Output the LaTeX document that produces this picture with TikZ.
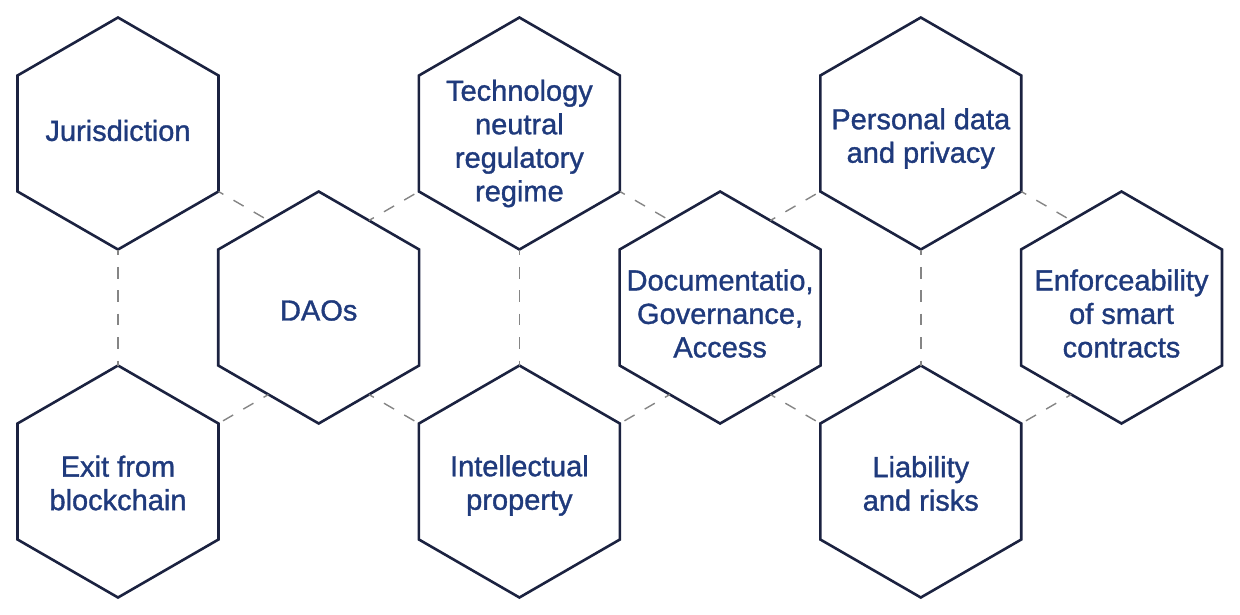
\documentclass[tikz,border=0pt]{standalone}
\usepackage{fontspec}
\setmainfont{Liberation Sans}
\newfontfamily\labelfont{Liberation Sans}[FakeBold=1.2]
\usetikzlibrary{calc}
\definecolor{hexstroke}{HTML}{1B2240}
\definecolor{hextext}{HTML}{1F3A7C}
\definecolor{dashgray}{HTML}{858585}
\tikzset{
  hexlabel/.style={align=center, text=hextext, font=\labelfont\fontsize{29}{33.5}\selectfont, inner sep=0pt},
  hexline/.style={draw=hexstroke, line width=2.6pt, line join=miter},
  link/.style={draw=dashgray, line width=1.4pt, dash pattern=on 11.7pt off 11.7pt, dash phase=6pt}
}
\begin{document}
\begin{tikzpicture}[x=1pt,y=1pt]
\useasboundingbox (0,0) rectangle (1240,-614);
\def\R{116}
\def\r{100.46}
% hexagon centres
\coordinate (jur)  at (118,-133.5);
\coordinate (exit) at (118,-481.5);
\coordinate (dao)  at (318.7,-307.5);
\coordinate (tech) at (519.4,-133.5);
\coordinate (ip)   at (519.4,-481.5);
\coordinate (doc)  at (720.1,-307.5);
\coordinate (pers) at (920.8,-133.5);
\coordinate (liab) at (920.8,-481.5);
\coordinate (enf)  at (1121.5,-307.5);
% labels
\node[hexlabel] (jur-t)  at ([yshift=3pt]jur)    {Jurisdiction};
\node[hexlabel] (exit-t) at ([yshift=-1.5pt]exit) {Exit from\\blockchain};
\node[hexlabel] (dao-t)  at ([yshift=-3pt]dao)   {DAOs};
\node[hexlabel] (tech-t) at ([yshift=-10pt]tech) {Technology\\neutral\\regulatory\\regime};
\node[hexlabel] (ip-t)   at ([yshift=-4pt]ip)    {Intellectual\\property};
\node[hexlabel] (doc-t)  at ([yshift=-6pt]doc)   {Documentatio,\\Governance,\\Access};
\node[hexlabel] (pers-t) at ([yshift=-5pt]pers)  {Personal data\\and privacy};
\node[hexlabel] (liab-t) at ([yshift=-2pt]liab)  {Liability\\and risks};
\node[hexlabel] (enf-t)  at ([yshift=-6pt]enf)   {Enforceability\\of smart\\contracts};
\foreach \n in {jur,exit,dao,tech,ip,doc,pers,liab,enf}{
  \draw[hexline] ($(\n)+(90:\R)$) -- ($(\n)+(150:\R)$) -- ($(\n)+(210:\R)$)
    -- ($(\n)+(270:\R)$) -- ($(\n)+(330:\R)$) -- ($(\n)+(30:\R)$) -- cycle;
}
% connectors: vertex of one hexagon to edge midpoint of the next
\draw[link] ($(jur)+(330:\R)$) -- ($(dao)+(120:\r)$);
\draw[link] ($(dao)+(60:\r)$) -- ($(tech)+(210:\R)$);
\draw[link] ($(jur)+(270:\R)$) -- ($(exit)+(90:\R)$);
\draw[link] ($(dao)+(240:\r)$) -- ($(exit)+(30:\R)$);
\draw[link] ($(dao)+(300:\r)$) -- ($(ip)+(150:\R)$);
\draw[link] ($(tech)+(270:\R)$) -- ($(ip)+(90:\R)$);
\draw[link] ($(tech)+(330:\R)$) -- ($(doc)+(120:\r)$);
\draw[link] ($(doc)+(240:\r)$) -- ($(ip)+(30:\R)$);
\draw[link] ($(doc)+(60:\r)$) -- ($(pers)+(210:\R)$);
\draw[link] ($(doc)+(300:\r)$) -- ($(liab)+(150:\R)$);
\draw[link] ($(pers)+(270:\R)$) -- ($(liab)+(90:\R)$);
\draw[link] ($(pers)+(330:\R)$) -- ($(enf)+(120:\r)$);
\draw[link] ($(enf)+(240:\r)$) -- ($(liab)+(30:\R)$);
\end{tikzpicture}
\end{document}
